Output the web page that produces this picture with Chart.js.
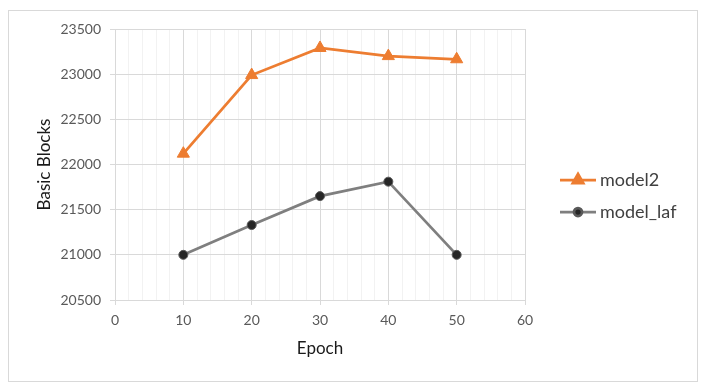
<!DOCTYPE html>
<html>
<head>
<meta charset="utf-8">
<script src="https://cdn.jsdelivr.net/npm/chart.js@4"></script>
<style>
  html, body { margin: 0; padding: 0; background: #fff; }
  #wrap { width: 706px; height: 389px; }
</style>
</head>
<body>
<div id="wrap"><canvas id="epochChart" width="706" height="389"></canvas></div>
<script>
'use strict';

// data
var epochs = [10, 20, 30, 40, 50];
var model2 = [22120, 22990, 23290, 23200, 23165];
var modelLaf = [21000, 21330, 21650, 21810, 21000];
var seriesNames = ['model2', 'model_laf'];

function toPoints(xs, ys) {
    return xs.map(function(x, i) { return {x: x, y: ys[i]}; });
}

// frame round the whole chart
var framePlugin = {
    id: 'frame',
    beforeDraw: function(chart) {
        var ctx = chart.ctx;
        ctx.save();
        ctx.fillStyle = '#fff';
        ctx.fillRect(0, 0, chart.width, chart.height);
        ctx.strokeStyle = '#D9D9D9';
        ctx.lineWidth = 1;
        ctx.strokeRect(8.5, 10.5, 689, 371);
        ctx.restore();
    }
};

// Excel-like legend: short line with the marker on it
var legendRadius = [6, 4];
var sideLegend = {
    id: 'sideLegend',
    afterDraw: function(chart) {
        var ctx = chart.ctx;
        var x0 = 560, x1 = 596, top = 180, gap = 32;
        ctx.save();
        chart.data.datasets.forEach(function(ds, i) {
            var y = top + i * gap;
            ctx.strokeStyle = ds.borderColor;
            ctx.lineWidth = ds.borderWidth;
            ctx.beginPath();
            ctx.moveTo(x0, y);
            ctx.lineTo(x1, y);
            ctx.stroke();
            ctx.fillStyle = ds.pointBackgroundColor;
            ctx.strokeStyle = ds.pointBorderColor;
            Chart.helpers.drawPoint(ctx, {
                pointStyle: ds.pointStyle,
                radius: legendRadius[i],
                borderWidth: ds.pointBorderWidth,
                rotation: 0
            }, (x0 + x1) / 2, y);
            ctx.fillStyle = '#404040';
            ctx.font = '18px Lato';
            ctx.textBaseline = 'middle';
            ctx.textAlign = 'left';
            ctx.fillText(ds.label, x1 + 4, y);
        });
        ctx.restore();
    }
};

var ctx = document.getElementById('epochChart');

var myChart = new Chart(ctx, {
    type: 'line',
    data: {
        datasets: [
            {
                label: seriesNames[0],
                data: toPoints(epochs, model2),
                borderColor: '#ED7D31',
                backgroundColor: '#ED7D31',
                borderWidth: 2.75,
                pointStyle: 'triangle',
                pointRadius: 7,
                pointBackgroundColor: '#ED7D31',
                pointBorderColor: '#ED7D31',
                pointBorderWidth: 1
            },
            {
                label: seriesNames[1],
                data: toPoints(epochs, modelLaf),
                borderColor: '#7F7F7F',
                backgroundColor: '#262626',
                borderWidth: 2.75,
                pointStyle: 'circle',
                pointRadius: 4.5,
                pointBackgroundColor: '#262626',
                pointBorderColor: '#595959',
                pointBorderWidth: 1
            }
        ]
    },
    options: {
        responsive: false,
        animation: false,
        layout: {
            padding: {left: 10, right: 181, top: 29, bottom: 10}
        },
        plugins: {
            legend: {display: false},
            tooltip: {enabled: false}
        },
        scales: {
            x: {
                type: 'linear',
                min: 0,
                max: 60,
                afterFit: function(scale) { scale.height = 79; },
                ticks: {
                    stepSize: 2,
                    autoSkip: false,
                    maxRotation: 0,
                    padding: 7,
                    color: '#595959',
                    font: {family: 'Lato', size: 14},
                    callback: function(v) { return v % 10 === 0 ? String(v) : ''; }
                },
                grid: {
                    color: function(c) { return c.tick && c.tick.value % 10 === 0 ? '#D9D9D9' : '#F2F2F2'; },
                    tickColor: function(c) { return c.tick && c.tick.value % 10 === 0 ? '#D9D9D9' : 'rgba(0,0,0,0)'; },
                    tickLength: 5,
                    lineWidth: 1
                },
                border: {color: '#D9D9D9'},
                title: {
                    display: true,
                    text: 'Epoch',
                    color: '#1a1a1a',
                    font: {family: 'Lato', size: 17},
                    padding: {top: 0, bottom: 20}
                }
            },
            y: {
                min: 20500,
                max: 23500,
                afterFit: function(scale) { scale.width = 105; },
                ticks: {
                    stepSize: 500,
                    padding: 9,
                    color: '#595959',
                    font: {family: 'Lato', size: 14},
                    callback: function(v) { return String(v); }
                },
                grid: {
                    color: '#D9D9D9',
                    tickLength: 5
                },
                border: {color: '#D9D9D9'},
                title: {
                    display: true,
                    text: 'Basic Blocks',
                    color: '#1a1a1a',
                    font: {family: 'Lato', size: 17},
                    padding: {top: 24, bottom: 0}
                }
            }
        }
    },
    plugins: [framePlugin, sideLegend]
});
</script>
</body>
</html>
